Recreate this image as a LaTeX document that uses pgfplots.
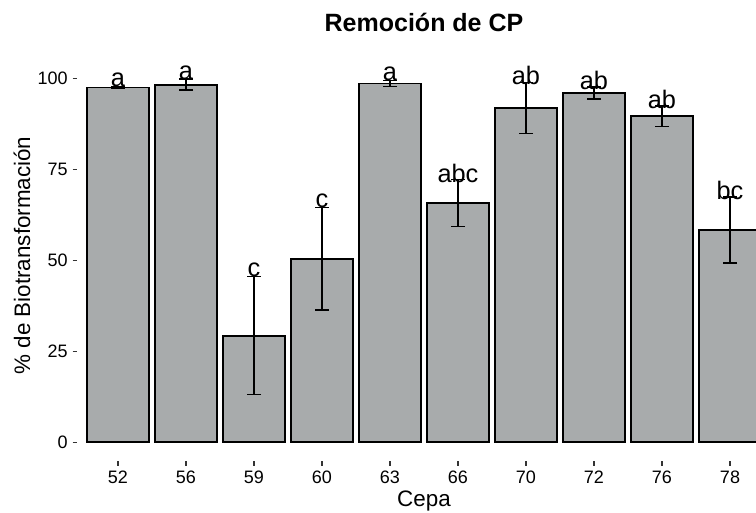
\documentclass[border=0pt]{standalone}
\usepackage{fontspec}
\setmainfont{Liberation Sans}
\usepackage{pgfplots}
\usepackage{pgfplotstable}
\pgfplotsset{compat=1.18}
\definecolor{barfill}{RGB}{168,171,172}
\definecolor{tickgray}{RGB}{51,51,51}
\pgfplotstableread{
x y err lab
0 97.4 0.3 a
1 98.2 1.5 a
2 29.3 16.2 c
3 50.4 14.1 c
4 98.5 0.8 a
5 65.7 6.4 abc
6 91.8 7.0 ab
7 95.9 1.7 ab
8 89.5 2.8 ab
9 58.3 9.1 bc
}\datatable
\begin{document}
\begin{tikzpicture}
\useasboundingbox (-57.9pt,-38.25pt) rectangle (509.1pt,345.75pt);
\clip (-57.9pt,-38.25pt) rectangle (509.1pt,345.75pt);
\begin{axis}[
  at={(0,0)}, anchor=south west,
  width=520.2pt, height=308.25pt, scale only axis,
  xmin=-0.6, xmax=9.6, ymin=-5.13, ymax=107.7,
  axis x line*=bottom, axis y line*=left,
  axis line style={draw=none},
  xtick={0,...,9}, xticklabels={52,56,59,60,63,66,70,72,76,78},
  ytick={0,25,50,75,100},
  tick align=outside, major tick length=3.4pt,
  every tick/.style={tickgray, line width=0.8pt},
  /pgf/number format/assume math mode=true,
  tick label style={font=\fontsize{13.5}{16}\selectfont, text=black},
  yticklabel style={anchor=east, inner sep=0pt, xshift=-3.5pt},
  xticklabel style={anchor=north, inner sep=0pt, yshift=-3.7pt},
  title={Remoción de CP},
  title style={font=\bfseries\fontsize{18.75}{22}\selectfont, at={(axis description cs:0.5,1)}, anchor=base, yshift=8.25pt},
  xlabel={Cepa},
  xlabel style={font=\fontsize{16.8}{20}\selectfont, at={(axis description cs:0.5,0)}, anchor=base, yshift=-33.75pt},
  ylabel={\% de Biotransformación},
  ylabel style={font=\fontsize{16.8}{20}\selectfont, at={([xshift=-41.4pt]axis description cs:0,0.5)}, anchor=center},
  clip=false,
]
\addplot[ybar, bar width=0.9, fill=barfill, draw=black, line width=1.4pt,
  error bars/.cd, y dir=both, y explicit,
  error bar style={line width=1.1pt, black},
  error mark=-,
  error mark options={rotate=90, black, line width=1.1pt, mark size=5.25pt}]
  table[x=x, y=y, y error=err]{\datatable};
\addplot[draw=none, mark=none, nodes near coords, point meta=explicit symbolic,
  nodes near coords style={anchor=center, font=\fontsize{19}{22}\selectfont, text=black, inner sep=0pt}]
  table[x=x, y expr=\thisrow{y}+\thisrow{err}+1.8, meta=lab]{\datatable};
\end{axis}
\end{tikzpicture}
\end{document}
